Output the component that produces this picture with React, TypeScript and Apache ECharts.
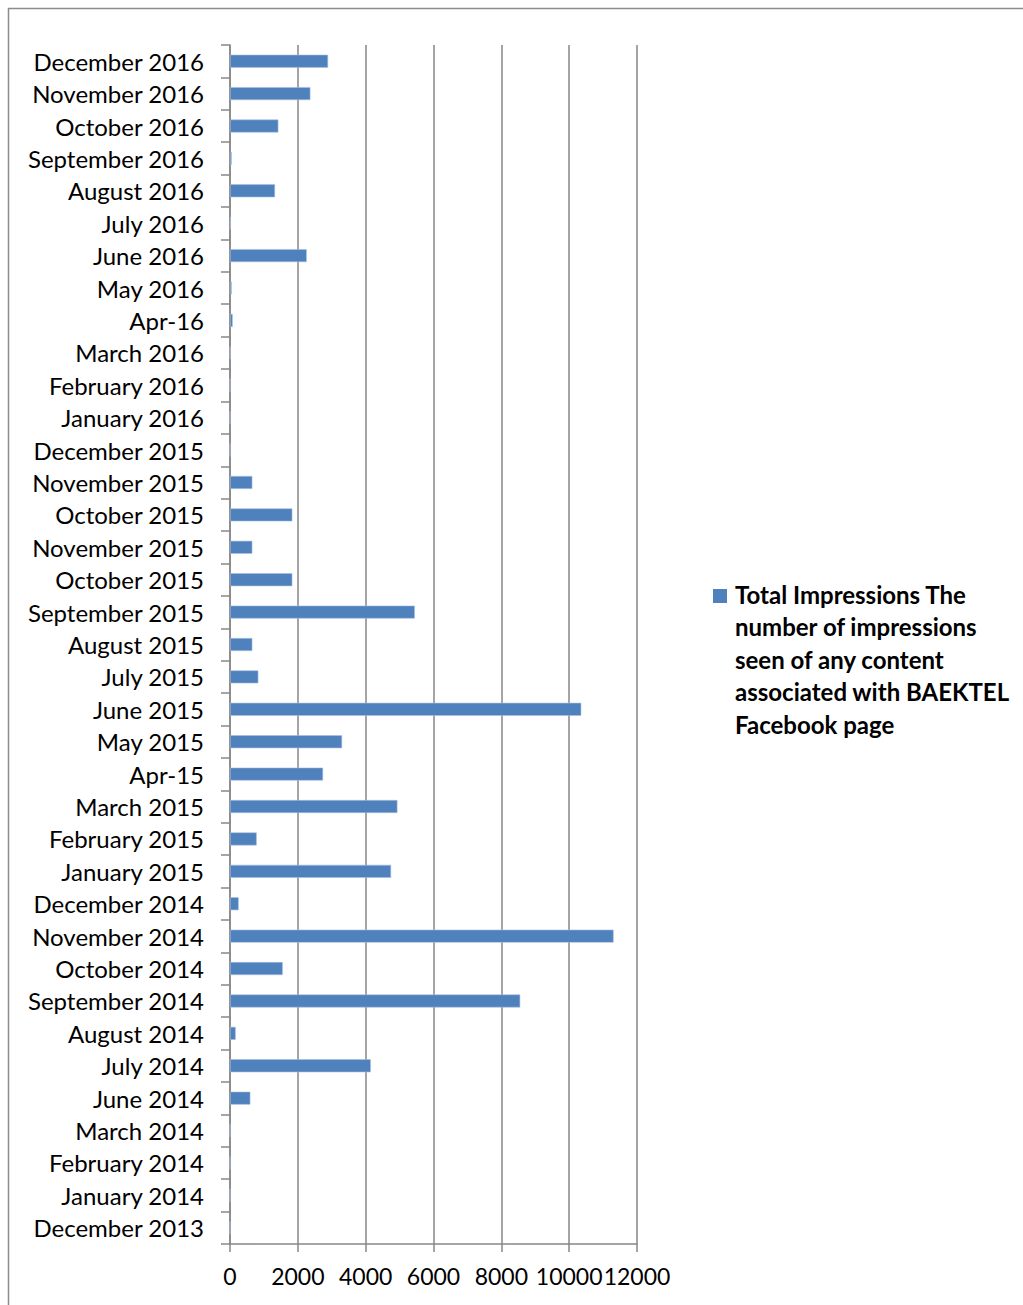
import React, { useEffect, useRef } from "react";
import * as echarts from "echarts";

// Categories listed top to bottom as in the reference
const categories: string[] = [
  "December 2016", "November 2016", "October 2016", "September 2016", "August 2016",
  "July 2016", "June 2016", "May 2016", "Apr-16", "March 2016", "February 2016",
  "January 2016", "December 2015", "November 2015", "October 2015", "November 2015",
  "October 2015", "September 2015", "August 2015", "July 2015", "June 2015", "May 2015",
  "Apr-15", "March 2015", "February 2015", "January 2015", "December 2014",
  "November 2014", "October 2014", "September 2014", "August 2014", "July 2014",
  "June 2014", "March 2014", "February 2014", "January 2014", "December 2013",
];

const impressions: number[] = [
  2892, 2370, 1426, 50, 1328,
  20, 2263, 50, 80, 10, 0,
  0, 0, 659, 1838, 659,
  1838, 5450, 659, 836, 10357, 3305,
  2744, 4937, 787, 4750, 256,
  11310, 1555, 8557, 168, 4151,
  600, 0, 0, 0, 0,
];

const xTicks: number[] = [0, 2000, 4000, 6000, 8000, 10000, 12000];

const seriesName =
  "Total Impressions The number of impressions seen of any content associated with BAEKTEL Facebook page";
const legendLines: string[] = [
  "Total Impressions The",
  "number of impressions",
  "seen of any content",
  "associated with BAEKTEL",
  "Facebook page",
];

const FONT = "Lato, 'Liberation Sans', sans-serif";
const GRAY = "#878787";
const BLUE = "#4F81BD";

export default function App() {
  const ref = useRef<HTMLDivElement>(null);
  useEffect(() => {
    if (!ref.current) return;
    const chart = echarts.init(ref.current, null, { renderer: "svg" });
    chart.setOption({
      animation: false,
      backgroundColor: "#ffffff",
      textStyle: { fontFamily: FONT },
      grid: { left: 230, right: 386, top: 45, bottom: 61, containLabel: false },
      xAxis: {
        type: "value",
        min: xTicks[0],
        max: xTicks[xTicks.length - 1],
        interval: 2000,
        axisLine: { show: true, lineStyle: { color: GRAY, width: 1.5 } },
        axisTick: { show: true, length: 8, lineStyle: { color: GRAY, width: 1.5 } },
        splitLine: { show: true, lineStyle: { color: GRAY, width: 1.5 } },
        axisLabel: {
          color: "#000",
          fontSize: 23,
          fontFamily: FONT,
          margin: 20,
          showMinLabel: true,
          showMaxLabel: true,
          hideOverlap: false,
          formatter: (v: number) => String(v),
        },
      },
      yAxis: {
        type: "category",
        inverse: true,
        data: categories.map((_, i) => String(i)),
        axisLine: { show: true, lineStyle: { color: GRAY, width: 1.5 } },
        axisTick: { show: true, length: 9, alignWithLabel: false, lineStyle: { color: GRAY, width: 1.5 } },
        splitLine: { show: false },
        axisLabel: {
          color: "#000",
          fontSize: 24,
          fontFamily: FONT,
          margin: 26,
          interval: 0,
          padding: [0, 0, 4, 0],
          formatter: (_v: string, idx: number) => categories[idx],
        },
      },
      series: [
        {
          name: seriesName,
          type: "bar",
          data: impressions,
          barWidth: 13,
          itemStyle: { color: BLUE, borderColor: "#a9c0e0", borderWidth: 0.6 },
        },
      ],
      graphic: [
        {
          type: "rect",
          shape: { x: 8.5, y: 8.5, width: 1200, height: 1400 },
          style: { fill: "none", stroke: "#8c8c8c", lineWidth: 1.5 },
          silent: true,
        },
        {
          type: "rect",
          shape: { x: 713, y: 589, width: 14, height: 14 },
          style: { fill: BLUE },
        },
        {
          type: "text",
          x: 735,
          y: 578,
          style: {
            text: legendLines.join("\n"),
            fill: "#000",
            font: `bold 24px ${FONT}`,
            lineHeight: 32.5,
            verticalAlign: "top",
            align: "left",
          },
        },
      ],
    });
    return () => chart.dispose();
  }, []);
  return (
    <div
      ref={ref}
      style={{ position: "absolute", left: 0, top: 0, width: 1023, height: 1305 }}
    />
  );
}
